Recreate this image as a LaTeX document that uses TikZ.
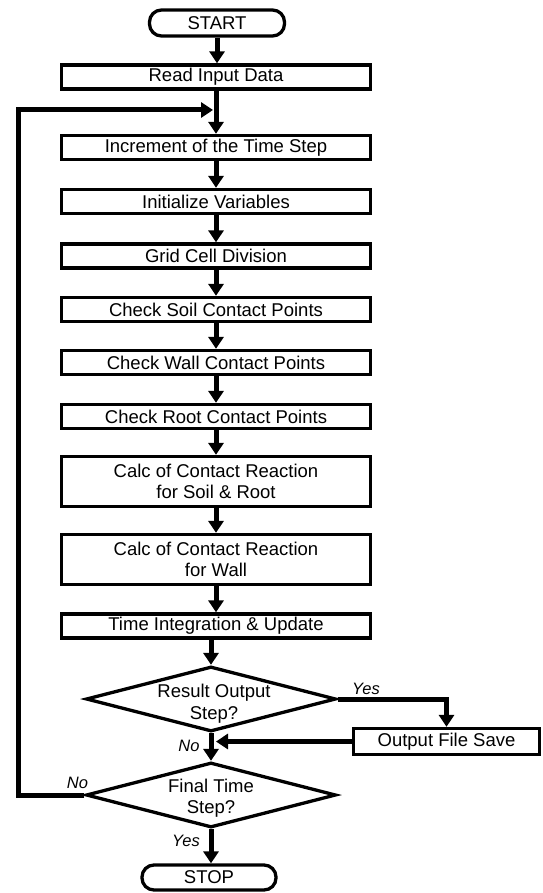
\documentclass[tikz,border=0pt]{standalone}
\usepackage{fontspec}
\setmainfont{Liberation Sans}
\usetikzlibrary{shapes.geometric,arrows.meta,calc}
\newcommand\bigfnt{\fontsize{18.5}{21.5}\selectfont}
\newcommand\labfnt{\fontsize{16.5}{19}\selectfont\itshape}
\begin{document}
\begin{tikzpicture}[x=1pt,y=-1pt,
  proc/.style={draw, line width=3.3pt, minimum width=309pt, minimum height=24pt, inner sep=0pt, font=\bigfnt, align=center},
  proc2/.style={proc, minimum height=50pt},
  term/.style={draw, line width=3.3pt, rounded corners=12pt, minimum width=135pt, minimum height=26pt, inner sep=0pt, font=\bigfnt},
  dec/.style={draw, diamond, line width=3.3pt, inner sep=0pt, minimum width=250pt, minimum height=65pt},
  txt/.style={font=\bigfnt, align=center, inner sep=0pt},
  lab/.style={font=\labfnt, inner sep=0pt},
  conn/.style={line width=5pt, -{Triangle[length=12pt,width=15pt]}},
  wire/.style={line width=5pt}
]
\useasboundingbox (0,0) rectangle (542,893);

\node[term] (start) at (217,23) {START};
\node[proc] (read) at (216,77) {Read Input Data};
\node[proc] (inc) at (216,147.5) {Increment of the Time Step};
\node[proc] (init) at (216,201.5) {Initialize Variables};
\node[proc] (grid) at (216,256) {Grid Cell Division};
\node[proc] (soil) at (216,309.5) {Check Soil Contact Points};
\node[proc] (wallc) at (216,362.5) {Check Wall Contact Points};
\node[proc] (root) at (216,416.5) {Check Root Contact Points};
\node[proc2] (calcsr) at (216,481.5) {Calc of Contact Reaction\\for Soil \& Root};
\node[proc2] (calcw) at (216,559.5) {Calc of Contact Reaction\\for Wall};
\node[proc] (timei) at (216,626) {Time Integration \& Update};

\node[dec] (d1) at (211,699) {};
\node[txt] (t1) at (214,703.5) {Result Output\\Step?};
\node[dec] (d2) at (211,795) {};
\node[txt] (t2) at (211,798) {Final Time\\Step?};

\node[proc, minimum width=186pt, minimum height=26pt] (ofs) at (446.5,741.5) {Output File Save};
\node[term, minimum width=134pt, minimum height=25pt] (stop) at (209,877.5) {STOP};

\node[lab] (yes1) at (366,689) {Yes};
\node[lab] (no1) at (189,746) {No};
\node[lab] (no2) at (77.5,782.5) {No};
\node[lab] (yes2) at (186,841) {Yes};

\coordinate (fbb) at (18,795);
\coordinate (fbt) at (18,110);

\draw[conn] (start.south) -- (start.south |- read.north);
\draw[conn] (read.south) -- (inc.north);
\draw[conn] (inc.south) -- (init.north);
\draw[conn] (init.south) -- (grid.north);
\draw[conn] (grid.south) -- (soil.north);
\draw[conn] (soil.south) -- (wallc.north);
\draw[conn] (wallc.south) -- (root.north);
\draw[conn] (root.south) -- (calcsr.north);
\draw[conn] (calcsr.south) -- (calcw.north);
\draw[conn] (calcw.south) -- (timei.north);
\draw[conn] (timei.south -| d1.north) -- (d1.north);
\draw[conn] (d1.south) -- (d2.north);
\draw[conn] (d2.south) -- (d2.south |- stop.north);
\draw[conn] (d1.east) -| (ofs.north);
\draw[conn, shorten >=5pt] (ofs.west) -- (ofs.west -| d1.south);
\draw[conn, line join=miter, shorten >=3pt] (d2.west) -- (fbb) -- (fbt) -- (fbt -| read.south);
\end{tikzpicture}
\end{document}
